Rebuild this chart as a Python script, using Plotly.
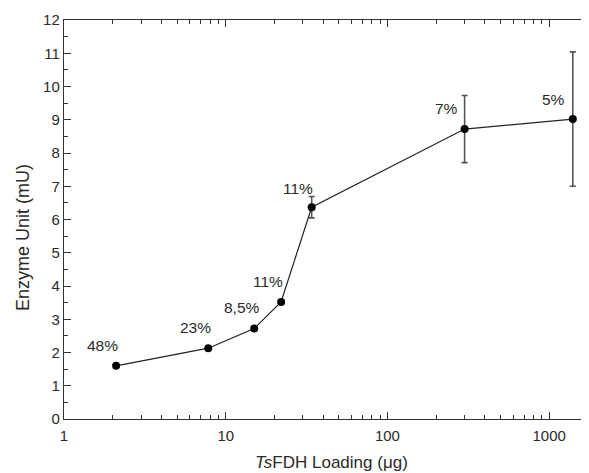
import numpy as np
import plotly.graph_objects as go

loading_ug = [2.1, 7.8, 15, 22, 34, 300, 1400]
enzyme_mU = [1.6, 2.13, 2.72, 3.52, 6.37, 8.72, 9.02]
error_mU = [None, None, None, None, 0.32, 1.01, 2.02]
pct_labels = ["48%", "23%", "8,5%", "11%", "11%", "7%", "5%"]

label_dx = [-14, -13, -12, -13, -14, -18, -19]
label_dy = [20, 21, 21, 20, 19, 21, 20]

FONT = "Liberation Sans, Arial, sans-serif"
TXT = "#2a2a2a"
AX = "#333333"

fig = go.Figure()
fig.add_trace(go.Scatter(
    x=loading_ug, y=enzyme_mU, mode="lines+markers",
    line=dict(color="#222222", width=1.2),
    marker=dict(color="black", size=8),
    error_y=dict(type="data", array=error_mU, visible=True,
                 color="#555555", thickness=1.6, width=3),
    showlegend=False,
))

for x, y, t, dx, dy in zip(loading_ug, enzyme_mU, pct_labels, label_dx, label_dy):
    fig.add_annotation(x=np.log10(x), y=y, xref="x", yref="y", text=t,
                       showarrow=False, xshift=dx, yshift=dy,
                       font=dict(family=FONT, size=15.5, color=TXT))

# axis titles as annotations for exact placement
fig.add_annotation(text="Enzyme Unit (mU)", xref="paper", yref="paper",
                   x=-0.077, y=0.455, xanchor="center", yanchor="middle",
                   textangle=-90, showarrow=False,
                   font=dict(family=FONT, size=18, color=TXT))
fig.add_annotation(text="<i>Ts</i>FDH Loading (μg)", xref="paper", yref="paper",
                   x=0.5095, y=-0.110, xanchor="center", yanchor="middle",
                   showarrow=False,
                   font=dict(family=FONT, size=17, color=TXT))

# page body has an 8px default margin, so the figure is sized/offset for it
fig.update_layout(
    width=581, height=465,
    margin=dict(l=56, r=0, t=12, b=54),
    paper_bgcolor="white", plot_bgcolor="white",
    font=dict(family=FONT, size=15, color=TXT),
)
fig.update_xaxes(
    type="log", range=[0, np.log10(1763)],
    tickvals=[1, 10, 100, 1000], ticktext=["1", "10", "100", "1000"],
    ticks="inside", ticklen=7, tickwidth=1.2, tickcolor=AX,
    minor=dict(ticks="inside", ticklen=4, tickwidth=1, tickcolor=AX,
               tickvals=[m * d for d in [1, 10, 100, 1000] for m in range(2, 10)]),
    showline=True, linecolor=AX, linewidth=1.4, mirror="allticks",
    showgrid=False, zeroline=False, ticklabelstandoff=3,
    tickfont=dict(size=15),
)
fig.update_yaxes(
    range=[0, 12], dtick=1, tick0=0,
    ticks="inside", ticklen=7, tickwidth=1.2, tickcolor=AX,
    minor=dict(ticks="inside", ticklen=4, tickwidth=1, tickcolor=AX, dtick=0.5),
    showline=True, linecolor=AX, linewidth=1.4,
    showgrid=False, zeroline=False,
    tickfont=dict(size=15),
)

fig.write_html("out.html")
